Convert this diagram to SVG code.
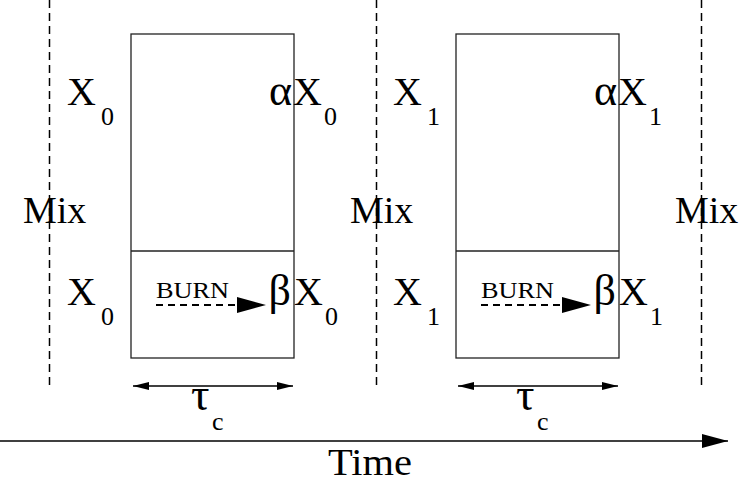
<svg xmlns="http://www.w3.org/2000/svg" width="751" height="484" viewBox="0 0 751 484">
<style>
.t{font-family:"Liberation Serif","Times New Roman",serif;fill:#000}
.big{font-size:40px}
.sub{font-size:26px}
.mix{font-size:38px}
.burn{font-size:24px}
.dash{stroke:#000;stroke-width:1.5;stroke-dasharray:8,5;fill:none}
.box{stroke:#222;stroke-width:1.3;fill:none}
.ln{stroke:#000;stroke-width:1.6;fill:none}
</style>
<defs>
<marker id="big" markerWidth="26" markerHeight="14" refX="26" refY="7" orient="auto" markerUnits="userSpaceOnUse"><path d="M0,0 L26,7 L0,14 z" fill="#000"/></marker>
<marker id="sm" markerWidth="16" markerHeight="8" refX="16" refY="4" orient="auto-start-reverse" markerUnits="userSpaceOnUse"><path d="M0,0 L16,4 L0,8 z" fill="#000"/></marker>
</defs>
<g id="mixlines">
<line class="dash" x1="49.5" y1="0" x2="49.5" y2="390"/>
<line class="dash" x1="376.5" y1="0" x2="376.5" y2="390"/>
<line class="dash" x1="701.5" y1="0" x2="701.5" y2="390"/>
</g>
<g id="box1">
<rect class="box" x="131" y="34" width="163" height="324"/>
<line class="box" x1="131" y1="251" x2="294" y2="251"/>
</g>
<g id="box2">
<rect class="box" x="456" y="34" width="163" height="324"/>
<line class="box" x1="456" y1="251" x2="619" y2="251"/>
</g>
<g id="connectors">
<line class="dash" x1="156" y1="305" x2="237" y2="305" style="stroke-dasharray:7,5;stroke-width:2"/>
<path d="M237,297 L266,305 L237,313 z" fill="#000"/>
<line class="dash" x1="481" y1="305" x2="562" y2="305" style="stroke-dasharray:7,5;stroke-width:2"/>
<path d="M562,297 L591,305 L562,313 z" fill="#000"/>
<line class="ln" x1="133" y1="386" x2="293" y2="386" marker-start="url(#sm)" marker-end="url(#sm)"/>
<line class="ln" x1="458" y1="386" x2="618" y2="386" marker-start="url(#sm)" marker-end="url(#sm)"/>
<line class="ln" x1="0" y1="441" x2="728" y2="441" marker-end="url(#big)"/>
</g>
<g id="labels">
<text class="t big" x="67" y="105">X</text><text class="t sub" x="101" y="125">0</text>
<text class="t big" x="292" y="105" text-anchor="end" style="font-size:44px">α</text><text class="t big" x="293" y="105">X</text><text class="t sub" x="324" y="125">0</text>
<text class="t big" x="393" y="105">X</text><text class="t sub" x="427" y="125">1</text>
<text class="t big" x="617" y="105" text-anchor="end" style="font-size:44px">α</text><text class="t big" x="618" y="105">X</text><text class="t sub" x="649" y="125">1</text>
<text class="t mix" x="23" y="223">Mix</text>
<text class="t mix" x="350" y="223">Mix</text>
<text class="t mix" x="675" y="223">Mix</text>
<text class="t big" x="67" y="305">X</text><text class="t sub" x="101" y="325">0</text>
<text class="t big" x="393" y="305">X</text><text class="t sub" x="427" y="325">1</text>
<text class="t burn" x="156" y="298" textLength="73" lengthAdjust="spacingAndGlyphs">BURN</text>
<text class="t burn" x="481" y="298" textLength="73" lengthAdjust="spacingAndGlyphs">BURN</text>
<text class="t big" x="291" y="305" text-anchor="end" style="font-size:44px">β</text><text class="t big" x="294" y="305">X</text><text class="t sub" x="325" y="325">0</text>
<text class="t big" x="616" y="305" text-anchor="end" style="font-size:44px">β</text><text class="t big" x="619" y="305">X</text><text class="t sub" x="650" y="325">1</text>
<text class="t big" x="191" y="410" style="font-size:46px">τ</text><text class="t sub" x="212" y="430">c</text>
<text class="t big" x="516" y="410" style="font-size:46px">τ</text><text class="t sub" x="537" y="430">c</text>
<text class="t mix" x="328" y="475" textLength="84" lengthAdjust="spacingAndGlyphs">Time</text>
</g>
</svg>
